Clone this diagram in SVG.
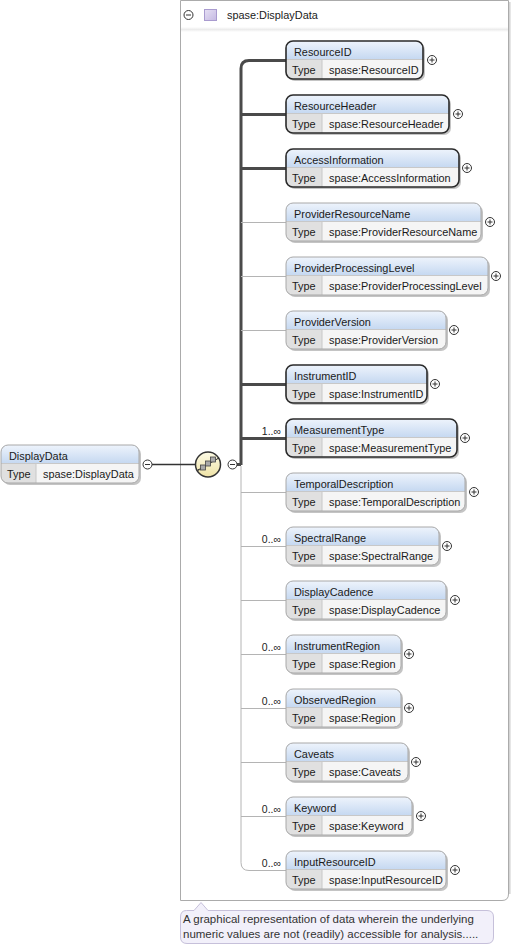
<svg xmlns="http://www.w3.org/2000/svg" width="512" height="948" viewBox="0 0 512 948">
<style>
text{font-family:"Liberation Sans",Arial,sans-serif;font-size:10.9px;fill:#1a1a1a}
.sh{fill:#c4c4c4}
.body{fill:#f5f5f5}
.hdr{fill:url(#hg)}
.tc{fill:#e0e0e0}
.sep{stroke:#c8c8c8;stroke-width:1;fill:none}
.req{fill:none;stroke:#2a2a2a;stroke-width:1.6}
.opt{fill:none;stroke:#a8a8a8;stroke-width:1}
.pc{fill:#fff;stroke:#333;stroke-width:1}
.pl{stroke:#333;stroke-width:1;fill:none}
.thick{stroke:#4a4a4a;stroke-width:3;fill:none}
.thin{stroke:#b4b4b4;stroke-width:1;fill:none}
.mult{font-size:10.5px;fill:#222}
.ann{font-size:11.5px;fill:#333}
</style>
<defs>
<linearGradient id="hg" x1="0" y1="0" x2="0" y2="1">
<stop offset="0" stop-color="#eef4fc"/>
<stop offset="1" stop-color="#c6d9f1"/>
</linearGradient>
<linearGradient id="yg" x1="0" y1="0" x2="0" y2="1">
<stop offset="0" stop-color="#fdfbe6"/>
<stop offset="1" stop-color="#efe3a6"/>
</linearGradient>
<linearGradient id="pg" x1="0" y1="0" x2="1" y2="1">
<stop offset="0" stop-color="#e6e0f4"/>
<stop offset="1" stop-color="#c5b9e2"/>
</linearGradient>
<linearGradient id="band" x1="0" y1="0" x2="0" y2="1">
<stop offset="0" stop-color="#ffffff"/>
<stop offset="0.5" stop-color="#ececec"/>
<stop offset="1" stop-color="#ffffff"/>
</linearGradient>
<g id="plus"><circle class="pc" cx="0" cy="0" r="4.5"/><path class="pl" d="M-2.5,0H2.5M0,-2.5V2.5"/></g>
<g id="minus"><circle class="pc" cx="0" cy="0" r="4.5"/><path class="pl" d="M-2.5,0H2.5"/></g>
</defs>

<g id="container">
<path d="M180.5,0.5H508.5V894Q508.5,900.5 502,900.5H180.5Z" fill="#fff" stroke="#ababab" stroke-width="1"/>
<path d="M509.8,2V894" stroke="#d2d2d2" stroke-width="1.5"/>
<rect x="181" y="27" width="327" height="5" fill="url(#band)"/>
<use href="#minus" x="188.5" y="15"/>
<rect x="204.5" y="9.5" width="12" height="11" fill="url(#pg)" stroke="#a99bcf" stroke-width="1"/>
<text x="227" y="19">spase:DisplayData</text>
</g>

<g id="connectors">
<path d="M152,464.5H196" stroke="#333" stroke-width="1.5"/>
<path class="thick" d="M286,60.5H249Q241,60.5 241,68.5V465"/>
<path class="thick" d="M237,464.5H241"/>
<path class="thick" d="M241,114.5H286M241,168.5H286M241,384.5H286M241,438.5H286"/>
<path class="thin" d="M241,466V862.5Q241,870.5 249,870.5H286"/>
<path class="thin" d="M241,222.5H286M241,276.5H286M241,330.5H286M241,492.5H286M241,546.5H286M241,600.5H286M241,654.5H286M241,708.5H286M241,762.5H286M241,816.5H286"/>
<text class="mult" x="281" y="435" text-anchor="end">1..∞</text>
<text class="mult" x="281" y="543" text-anchor="end">0..∞</text>
<text class="mult" x="281" y="651" text-anchor="end">0..∞</text>
<text class="mult" x="281" y="705" text-anchor="end">0..∞</text>
<text class="mult" x="281" y="813" text-anchor="end">0..∞</text>
<text class="mult" x="281" y="867" text-anchor="end">0..∞</text>
</g>

<g id="seq">
<circle cx="208" cy="464.5" r="12.5" fill="url(#yg)" stroke="#333" stroke-width="1.5"/>
<path d="M199,469.5L218,458.5" stroke="#333" stroke-width="1"/>
<circle cx="198.5" cy="469.8" r="0.9" fill="#333"/>
<circle cx="218.5" cy="458.2" r="0.9" fill="#333"/>
<rect x="200.5" y="465" width="5" height="5" fill="#aaa" stroke="#444" stroke-width="0.8"/>
<rect x="205.5" y="461" width="5" height="5" fill="#aaa" stroke="#444" stroke-width="0.8"/>
<rect x="210.5" y="457" width="5" height="5" fill="#aaa" stroke="#444" stroke-width="0.8"/>
<use href="#minus" x="232.5" y="464.5"/>
</g>

<g id="DisplayData" transform="translate(1,445)">
<rect class="sh" x="2" y="2" width="138" height="38" rx="7"/>
<rect class="body" width="138" height="38" rx="7"/>
<path class="hdr" d="M0,18V7Q0,0 7,0H131Q138,0 138,7V18Z"/>
<path class="tc" d="M0,18H35V38H7Q0,38 0,31Z"/>
<path class="sep" d="M0,18.5H138M35,18V38"/>
<rect class="opt" width="138" height="38" rx="7"/>
<text x="8" y="14.5">DisplayData</text>
<text x="6" y="33">Type</text>
<text x="42" y="33">spase:DisplayData</text>
<use href="#minus" x="146.5" y="19.5"/>
</g>

<g id="ResourceID" transform="translate(286,41)">
<rect class="sh" x="2" y="2" width="137" height="38" rx="7"/>
<rect class="body" width="137" height="38" rx="7"/>
<path class="hdr" d="M0,18V7Q0,0 7,0H130Q137,0 137,7V18Z"/>
<path class="tc" d="M0,18H36V38H7Q0,38 0,31Z"/>
<path class="sep" d="M0,18.5H137M36,18V38"/>
<rect class="req" width="137" height="38" rx="7"/>
<text x="8" y="14.5">ResourceID</text><text x="6" y="33">Type</text><text x="43" y="33">spase:ResourceID</text>
<use href="#plus" x="146" y="19"/>
</g>

<g id="ResourceHeader" transform="translate(286,95)">
<rect class="sh" x="2" y="2" width="163" height="38" rx="7"/>
<rect class="body" width="163" height="38" rx="7"/>
<path class="hdr" d="M0,18V7Q0,0 7,0H156Q163,0 163,7V18Z"/>
<path class="tc" d="M0,18H36V38H7Q0,38 0,31Z"/>
<path class="sep" d="M0,18.5H163M36,18V38"/>
<rect class="req" width="163" height="38" rx="7"/>
<text x="8" y="14.5">ResourceHeader</text><text x="6" y="33">Type</text><text x="43" y="33">spase:ResourceHeader</text>
<use href="#plus" x="172" y="19"/>
</g>

<g id="AccessInformation" transform="translate(286,149)">
<rect class="sh" x="2" y="2" width="173" height="38" rx="7"/>
<rect class="body" width="173" height="38" rx="7"/>
<path class="hdr" d="M0,18V7Q0,0 7,0H166Q173,0 173,7V18Z"/>
<path class="tc" d="M0,18H36V38H7Q0,38 0,31Z"/>
<path class="sep" d="M0,18.5H173M36,18V38"/>
<rect class="req" width="173" height="38" rx="7"/>
<text x="8" y="14.5">AccessInformation</text><text x="6" y="33">Type</text><text x="43" y="33">spase:AccessInformation</text>
<use href="#plus" x="181" y="19"/>
</g>

<g id="ProviderResourceName" transform="translate(286,203)">
<rect class="sh" x="2" y="2" width="195" height="38" rx="7"/>
<rect class="body" width="195" height="38" rx="7"/>
<path class="hdr" d="M0,18V7Q0,0 7,0H188Q195,0 195,7V18Z"/>
<path class="tc" d="M0,18H36V38H7Q0,38 0,31Z"/>
<path class="sep" d="M0,18.5H195M36,18V38"/>
<rect class="opt" width="195" height="38" rx="7"/>
<text x="8" y="14.5">ProviderResourceName</text><text x="6" y="33">Type</text><text x="43" y="33">spase:ProviderResourceName</text>
<use href="#plus" x="204" y="19"/>
</g>

<g id="ProviderProcessingLevel" transform="translate(286,257)">
<rect class="sh" x="2" y="2" width="202" height="38" rx="7"/>
<rect class="body" width="202" height="38" rx="7"/>
<path class="hdr" d="M0,18V7Q0,0 7,0H195Q202,0 202,7V18Z"/>
<path class="tc" d="M0,18H36V38H7Q0,38 0,31Z"/>
<path class="sep" d="M0,18.5H202M36,18V38"/>
<rect class="opt" width="202" height="38" rx="7"/>
<text x="8" y="14.5">ProviderProcessingLevel</text><text x="6" y="33">Type</text><text x="43" y="33">spase:ProviderProcessingLevel</text>
<use href="#plus" x="210" y="19"/>
</g>

<g id="ProviderVersion" transform="translate(286,311)">
<rect class="sh" x="2" y="2" width="160" height="38" rx="7"/>
<rect class="body" width="160" height="38" rx="7"/>
<path class="hdr" d="M0,18V7Q0,0 7,0H153Q160,0 160,7V18Z"/>
<path class="tc" d="M0,18H36V38H7Q0,38 0,31Z"/>
<path class="sep" d="M0,18.5H160M36,18V38"/>
<rect class="opt" width="160" height="38" rx="7"/>
<text x="8" y="14.5">ProviderVersion</text><text x="6" y="33">Type</text><text x="43" y="33">spase:ProviderVersion</text>
<use href="#plus" x="168" y="19"/>
</g>

<g id="InstrumentID" transform="translate(286,365)">
<rect class="sh" x="2" y="2" width="141" height="38" rx="7"/>
<rect class="body" width="141" height="38" rx="7"/>
<path class="hdr" d="M0,18V7Q0,0 7,0H134Q141,0 141,7V18Z"/>
<path class="tc" d="M0,18H36V38H7Q0,38 0,31Z"/>
<path class="sep" d="M0,18.5H141M36,18V38"/>
<rect class="req" width="141" height="38" rx="7"/>
<text x="8" y="14.5">InstrumentID</text><text x="6" y="33">Type</text><text x="43" y="33">spase:InstrumentID</text>
<use href="#plus" x="149" y="19"/>
</g>

<g id="MeasurementType" transform="translate(286,419)">
<rect class="sh" x="2" y="2" width="171" height="38" rx="7"/>
<rect class="body" width="171" height="38" rx="7"/>
<path class="hdr" d="M0,18V7Q0,0 7,0H164Q171,0 171,7V18Z"/>
<path class="tc" d="M0,18H36V38H7Q0,38 0,31Z"/>
<path class="sep" d="M0,18.5H171M36,18V38"/>
<rect class="req" width="171" height="38" rx="7"/>
<text x="8" y="14.5">MeasurementType</text><text x="6" y="33">Type</text><text x="43" y="33">spase:MeasurementType</text>
<use href="#plus" x="179" y="19"/>
</g>

<g id="TemporalDescription" transform="translate(286,473)">
<rect class="sh" x="2" y="2" width="179" height="38" rx="7"/>
<rect class="body" width="179" height="38" rx="7"/>
<path class="hdr" d="M0,18V7Q0,0 7,0H172Q179,0 179,7V18Z"/>
<path class="tc" d="M0,18H36V38H7Q0,38 0,31Z"/>
<path class="sep" d="M0,18.5H179M36,18V38"/>
<rect class="opt" width="179" height="38" rx="7"/>
<text x="8" y="14.5">TemporalDescription</text><text x="6" y="33">Type</text><text x="43" y="33">spase:TemporalDescription</text>
<use href="#plus" x="188" y="19"/>
</g>

<g id="SpectralRange" transform="translate(286,527)">
<rect class="sh" x="2" y="2" width="153" height="38" rx="7"/>
<rect class="body" width="153" height="38" rx="7"/>
<path class="hdr" d="M0,18V7Q0,0 7,0H146Q153,0 153,7V18Z"/>
<path class="tc" d="M0,18H36V38H7Q0,38 0,31Z"/>
<path class="sep" d="M0,18.5H153M36,18V38"/>
<rect class="opt" width="153" height="38" rx="7"/>
<text x="8" y="14.5">SpectralRange</text><text x="6" y="33">Type</text><text x="43" y="33">spase:SpectralRange</text>
<use href="#plus" x="161" y="19"/>
</g>

<g id="DisplayCadence" transform="translate(286,581)">
<rect class="sh" x="2" y="2" width="160" height="38" rx="7"/>
<rect class="body" width="160" height="38" rx="7"/>
<path class="hdr" d="M0,18V7Q0,0 7,0H153Q160,0 160,7V18Z"/>
<path class="tc" d="M0,18H36V38H7Q0,38 0,31Z"/>
<path class="sep" d="M0,18.5H160M36,18V38"/>
<rect class="opt" width="160" height="38" rx="7"/>
<text x="8" y="14.5">DisplayCadence</text><text x="6" y="33">Type</text><text x="43" y="33">spase:DisplayCadence</text>
<use href="#plus" x="169" y="19"/>
</g>

<g id="InstrumentRegion" transform="translate(286,635)">
<rect class="sh" x="2" y="2" width="115" height="38" rx="7"/>
<rect class="body" width="115" height="38" rx="7"/>
<path class="hdr" d="M0,18V7Q0,0 7,0H108Q115,0 115,7V18Z"/>
<path class="tc" d="M0,18H36V38H7Q0,38 0,31Z"/>
<path class="sep" d="M0,18.5H115M36,18V38"/>
<rect class="opt" width="115" height="38" rx="7"/>
<text x="8" y="14.5">InstrumentRegion</text><text x="6" y="33">Type</text><text x="43" y="33">spase:Region</text>
<use href="#plus" x="123" y="19"/>
</g>

<g id="ObservedRegion" transform="translate(286,689)">
<rect class="sh" x="2" y="2" width="115" height="38" rx="7"/>
<rect class="body" width="115" height="38" rx="7"/>
<path class="hdr" d="M0,18V7Q0,0 7,0H108Q115,0 115,7V18Z"/>
<path class="tc" d="M0,18H36V38H7Q0,38 0,31Z"/>
<path class="sep" d="M0,18.5H115M36,18V38"/>
<rect class="opt" width="115" height="38" rx="7"/>
<text x="8" y="14.5">ObservedRegion</text><text x="6" y="33">Type</text><text x="43" y="33">spase:Region</text>
<use href="#plus" x="123" y="19"/>
</g>

<g id="Caveats" transform="translate(286,743)">
<rect class="sh" x="2" y="2" width="122" height="38" rx="7"/>
<rect class="body" width="122" height="38" rx="7"/>
<path class="hdr" d="M0,18V7Q0,0 7,0H115Q122,0 122,7V18Z"/>
<path class="tc" d="M0,18H36V38H7Q0,38 0,31Z"/>
<path class="sep" d="M0,18.5H122M36,18V38"/>
<rect class="opt" width="122" height="38" rx="7"/>
<text x="8" y="14.5">Caveats</text><text x="6" y="33">Type</text><text x="43" y="33">spase:Caveats</text>
<use href="#plus" x="130" y="19"/>
</g>

<g id="Keyword" transform="translate(286,797)">
<rect class="sh" x="2" y="2" width="126" height="38" rx="7"/>
<rect class="body" width="126" height="38" rx="7"/>
<path class="hdr" d="M0,18V7Q0,0 7,0H119Q126,0 126,7V18Z"/>
<path class="tc" d="M0,18H36V38H7Q0,38 0,31Z"/>
<path class="sep" d="M0,18.5H126M36,18V38"/>
<rect class="opt" width="126" height="38" rx="7"/>
<text x="8" y="14.5">Keyword</text><text x="6" y="33">Type</text><text x="43" y="33">spase:Keyword</text>
<use href="#plus" x="135" y="19"/>
</g>

<g id="InputResourceID" transform="translate(286,851)">
<rect class="sh" x="2" y="2" width="160" height="38" rx="7"/>
<rect class="body" width="160" height="38" rx="7"/>
<path class="hdr" d="M0,18V7Q0,0 7,0H153Q160,0 160,7V18Z"/>
<path class="tc" d="M0,18H36V38H7Q0,38 0,31Z"/>
<path class="sep" d="M0,18.5H160M36,18V38"/>
<rect class="opt" width="160" height="38" rx="7"/>
<text x="8" y="14.5">InputResourceID</text><text x="6" y="33">Type</text><text x="43" y="33">spase:InputResourceID</text>
<use href="#plus" x="169" y="19"/>
</g>

<g id="annotation">
<path d="M186.5,910.5H194L201,902.5L208,910.5H487Q493.5,910.5 493.5,917V937Q493.5,943.5 487,943.5H187Q180.5,943.5 180.5,937V917Q180.5,910.5 186.5,910.5Z" fill="#f2f0fa" stroke="#c6c0da" stroke-width="1"/>
<text class="ann" x="183" y="923">A graphical representation of data wherein the underlying</text>
<text class="ann" x="183" y="938">numeric values are not (readily) accessible for analysis.....</text>
</g>
</svg>
